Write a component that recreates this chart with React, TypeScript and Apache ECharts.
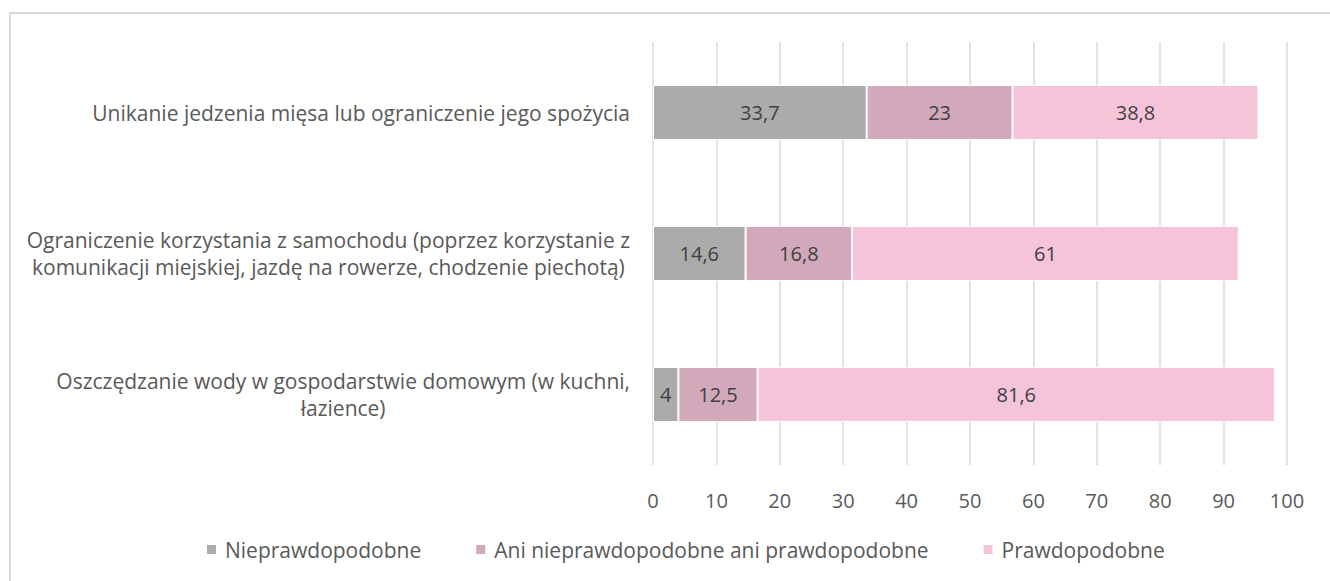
import React, { useEffect, useRef } from "react";
import * as echarts from "echarts";

const categories = [
  "Oszczędzanie wody w gospodarstwie domowym (w kuchni,\nłazience)",
  "Ograniczenie korzystania z samochodu (poprzez korzystanie z\nkomunikacji miejskiej, jazdę na rowerze, chodzenie piechotą)",
  "Unikanie jedzenia mięsa lub ograniczenie jego spożycia",
];
const seriesNames = [
  "Nieprawdopodobne",
  "Ani nieprawdopodobne ani prawdopodobne",
  "Prawdopodobne",
];
const nieprawdopodobne = [4, 14.6, 33.7];
const ani = [12.5, 16.8, 23];
const prawdopodobne = [81.6, 61, 38.8];
const colors = ["#ABABAB", "#D2A9BA", "#F6C4D9"];
const xTicks = { min: 0, max: 100, interval: 10 };

const FONT = "'Open Sans', sans-serif";
const FS_TEXT = 21;
const FS_NUM = 20;

export default function App() {
  const ref = useRef<HTMLDivElement>(null);
  useEffect(() => {
    if (!ref.current) return;
    const chart = echarts.init(ref.current, null, { renderer: "svg" });
    const values = [nieprawdopodobne, ani, prawdopodobne];
    chart.setOption({
      animation: false,
      textStyle: { fontFamily: FONT },
      graphic: [
        {
          type: "rect",
          shape: { x: 10, y: 13, width: 1400, height: 700 },
          style: { fill: "none", stroke: "#D9D9D9", lineWidth: 2 },
          silent: true,
        },
      ],
      legend: {
        left: 200,
        top: 534,
        itemWidth: 11,
        itemHeight: 11,
        itemGap: 53,
        icon: "rect",
        textStyle: { color: "#595959", fontSize: FS_TEXT, fontFamily: FONT, padding: [0, 0, 0, 3] },
        data: seriesNames,
      },
      grid: { left: 653, right: 43, top: 42, bottom: 116 },
      xAxis: {
        type: "value",
        min: xTicks.min,
        max: xTicks.max,
        interval: xTicks.interval,
        axisLine: { show: false },
        axisTick: { show: false },
        splitLine: { lineStyle: { color: "#D9D9D9", width: 1.5 } },
        axisLabel: { color: "#595959", fontSize: FS_NUM, fontFamily: FONT, margin: 25 },
      },
      yAxis: {
        type: "category",
        data: categories,
        axisLine: { show: false },
        axisTick: { show: false },
        axisLabel: {
          color: "#595959",
          fontSize: FS_TEXT,
          fontFamily: FONT,
          margin: 23,
          align: "right",
          lineHeight: 27,
          formatter: (v: string) =>
            v
              .split("\n")
              .map((l) => "{c|" + l + "}")
              .join("\n"),
          rich: {
            c: { align: "center", color: "#595959", fontSize: FS_TEXT, fontFamily: FONT, lineHeight: 27 },
          },
        },
      },
      series: seriesNames.map((name, i) => ({
        name,
        type: "bar",
        stack: "total",
        data: values[i],
        barCategoryGap: "61%",
        itemStyle: { color: colors[i], borderColor: "#FFFFFF", borderWidth: 1 },
        label: {
          show: true,
          position: "inside",
          color: "#404040",
          fontSize: FS_NUM,
          fontFamily: FONT,
          formatter: (p: any) => String(p.value).replace(".", ","),
        },
      })),
    });
    return () => chart.dispose();
  }, []);
  return (
    <div
      ref={ref}
      style={{ position: "absolute", left: 0, top: 0, width: 1330, height: 581, background: "#fff" }}
    />
  );
}
